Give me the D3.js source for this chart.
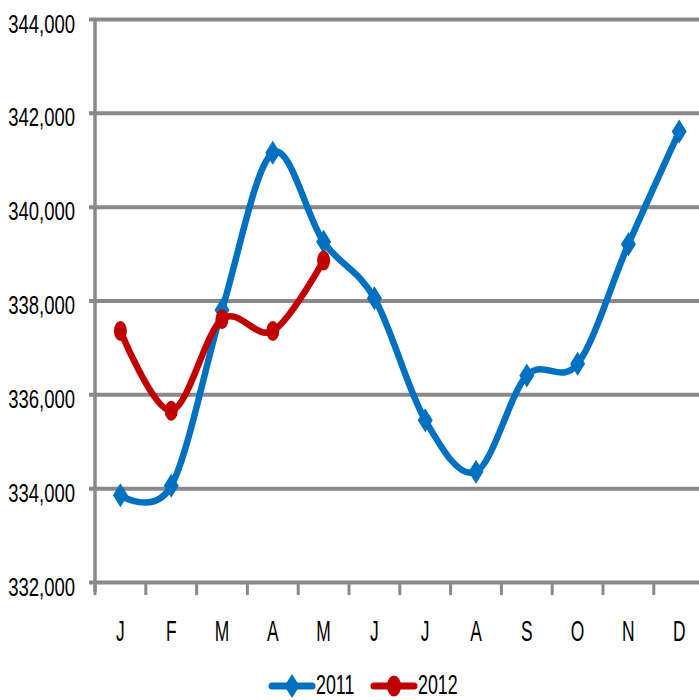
<!DOCTYPE html>
<html><head><meta charset="utf-8">
<script src="https://cdn.jsdelivr.net/npm/d3@7"></script>
<style>
html,body{margin:0;padding:0;background:#fff;overflow:hidden}
svg{display:block}
text{font-family:"Liberation Sans",Arial,sans-serif;fill:#000}
</style></head>
<body>
<svg id="c" width="699" height="700"></svg>
<script>
const months = ["J","F","M","A","M","J","J","A","S","O","N","D"];
const series2011 = [333850, 334050, 337800, 341150, 339250, 338050, 335450, 334350, 336400, 336650, 339200, 341600];
const series2012 = [337350, 335650, 337600, 337350, 338850];
const yTicks = [332000, 334000, 336000, 338000, 340000, 342000, 344000];
const seriesNames = ["2011", "2012"];
const colors = ["#0070C0", "#C00000"];

const svg = d3.select("#c");
const mLeft = 95, mRight = 704.6, mTop = 19, mBottom = 582;

const x = d3.scaleBand().domain(d3.range(months.length)).range([mLeft, mRight]).padding(0);
const y = d3.scaleLinear().domain([332000, 344000]).range([mBottom, mTop]);
const cx = i => x(i) + x.bandwidth() / 2;

const grid = "#898989";
const sy = 0.74, sx = 0.6, sl = 0.66;

// gridlines + y labels
const yAxis = d3.axisLeft(y).tickValues(yTicks).tickFormat(d3.format(",")).tickSize(0).tickPadding(0);
const gy = svg.append("g").attr("transform", `translate(${mLeft},0)`).call(yAxis);
gy.select(".domain").remove();
gy.selectAll(".tick line").attr("x1", -6).attr("x2", mRight - mLeft).attr("stroke", grid).attr("stroke-width", 4);
gy.selectAll(".tick text").attr("x", -20 / sy).attr("y", 13).attr("dy", 0)
  .attr("text-anchor", "end").style("font-size", "25px").attr("transform", `scale(${sy},1)`);

// y axis line
svg.append("line").attr("x1", mLeft).attr("x2", mLeft).attr("y1", mTop).attr("y2", mBottom + 10)
  .attr("stroke", grid).attr("stroke-width", 3.5);

// x axis labels
const xAxis = d3.axisBottom(x).tickFormat(i => months[i]).tickSize(0).tickPadding(0);
const gx = svg.append("g").attr("transform", `translate(0,${mBottom})`).call(xAxis);
gx.select(".domain").remove();
gx.selectAll(".tick text").attr("y", 59).attr("dy", 0).attr("text-anchor", "middle")
  .style("font-size", "29px").attr("transform", `scale(${sx},1)`);

// boundary ticks
svg.append("g").selectAll("line").data(d3.range(months.length + 1)).join("line")
  .attr("x1", i => mLeft + i * x.bandwidth()).attr("x2", i => mLeft + i * x.bandwidth())
  .attr("y1", mBottom).attr("y2", mBottom + 13).attr("stroke", grid).attr("stroke-width", 3);

// lines
const line = d3.line().x((d, i) => cx(i)).y(d => y(d)).curve(d3.curveCardinal.tension(0));
const data = [series2011, series2012];

data.forEach((s, k) => {
  svg.append("path").datum(s).attr("d", line).attr("fill", "none")
    .attr("stroke", colors[k]).attr("stroke-width", 6.5).attr("stroke-linejoin", "round").attr("stroke-linecap", "round");
});

// markers
const diamond = (w, h) => `M0,${-h/2}L${w/2},0L0,${h/2}L${-w/2},0Z`;
svg.append("g").selectAll("path").data(series2011).join("path")
  .attr("transform", (d, i) => `translate(${cx(i)},${y(d)})`)
  .attr("d", diamond(15, 24)).attr("fill", colors[0]);
svg.append("g").selectAll("ellipse").data(series2012).join("ellipse")
  .attr("cx", (d, i) => cx(i)).attr("cy", d => y(d)).attr("rx", 6.5).attr("ry", 10)
  .attr("fill", colors[1]);

// legend
const legY = 686;
const leg = svg.append("g");
const legItems = [{x0: 272, x1: 312, tx: 316}, {x0: 374, x1: 414, tx: 418}];
legItems.forEach((it, k) => {
  leg.append("line").attr("x1", it.x0).attr("x2", it.x1).attr("y1", legY).attr("y2", legY)
    .attr("stroke", colors[k]).attr("stroke-width", 7).attr("stroke-linecap", "round");
  const mx = (it.x0 + it.x1) / 2;
  if (k === 0) leg.append("path").attr("transform", `translate(${mx},${legY})`).attr("d", diamond(15, 24)).attr("fill", colors[k]);
  else leg.append("ellipse").attr("cx", mx).attr("cy", legY).attr("rx", 7).attr("ry", 10.5).attr("fill", colors[k]);
  leg.append("text").attr("x", it.tx / sl).attr("y", 694).attr("transform", `scale(${sl},1)`)
    .style("font-size", "27px").text(seriesNames[k]);
});
</script>
</body></html>
